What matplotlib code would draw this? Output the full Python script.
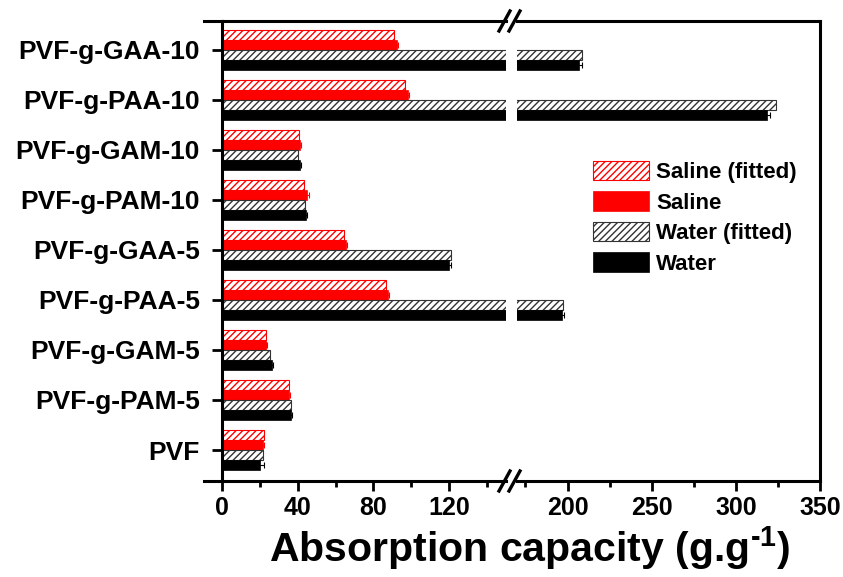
import matplotlib
matplotlib.use('Agg')
import matplotlib.pyplot as plt
import numpy as np

plt.rcParams['font.family'] = ['Liberation Sans', 'DejaVu Sans']
plt.rcParams['font.weight'] = 'bold'
plt.rcParams['mathtext.fontset'] = 'custom'
plt.rcParams['mathtext.bf'] = 'Liberation Sans:bold'
plt.rcParams['mathtext.rm'] = 'Liberation Sans:bold'
plt.rcParams['mathtext.default'] = 'bf'
plt.rcParams['hatch.linewidth'] = 1.0

samples = ['PVF', 'PVF-g-PAM-5', 'PVF-g-GAM-5', 'PVF-g-PAA-5', 'PVF-g-GAA-5',
           'PVF-g-PAM-10', 'PVF-g-GAM-10', 'PVF-g-PAA-10', 'PVF-g-GAA-10']
saline_fit = [22.4, 35.4, 23.5, 86.6, 64.7, 43.1, 40.8, 96.8, 90.9]
saline = [21.8, 35.4, 23.5, 87.6, 65.3, 44.9, 41.4, 98.3, 92.3]
water_fit = [21.4, 36.2, 25.5, 197.4, 121.0, 43.6, 40.3, 323.6, 208.8]
water = [20.3, 36.5, 26.5, 196.9, 119.9, 44.2, 41.2, 318.7, 207.1]
saline_err = [0.5, 0.5, 0.5, 0.8, 0.6, 1.0, 0.5, 0.6, 0.6]
water_err = [2.0, 0.6, 0.6, 1.2, 1.0, 0.6, 0.5, 1.5, 1.8]

left_ticks = [0, 40, 80, 120]
right_ticks = [200, 250, 300, 350]

fig = plt.figure(figsize=(8.43, 5.77), dpi=100)
W, H = 843.0, 577.0
top, bot = 21, 481
axL = fig.add_axes([222 / W, (H - bot) / H, (506 - 222) / W, (bot - top) / H])
axR = fig.add_axes([517 / W, (H - bot) / H, (820 - 517) / W, (bot - top) / H])

y = np.arange(len(samples))
h = 0.2
for ax in (axL, axR):
    ax.barh(y + 0.3, saline_fit, h, color='white', edgecolor='red', hatch='/////', linewidth=0.8)
    ax.barh(y + 0.1, saline, h, color='red', edgecolor='red', linewidth=0.5,
            xerr=saline_err, error_kw=dict(ecolor='red', elinewidth=0.8, capsize=2, capthick=0.8))
    ax.barh(y - 0.1, water_fit, h, color='white', edgecolor='#333333', hatch='/////', linewidth=0.8)
    ax.barh(y - 0.3, water, h, color='black', edgecolor='black', linewidth=0.5,
            xerr=water_err, error_kw=dict(ecolor='black', elinewidth=0.8, capsize=2, capthick=0.8))
    ax.set_ylim(-0.62, 8.58)
    for s in ax.spines.values():
        s.set_linewidth(2.2)
    ax.tick_params(axis='x', which='major', direction='out', length=7, width=2, labelsize=18, pad=4)
    ax.tick_params(axis='x', which='minor', direction='out', length=4, width=2)

axL.set_xlim(0, 150)
axL.set_xticks(left_ticks)
axL.set_xticks([20, 60, 100, 140], minor=True)
axL.spines['right'].set_visible(False)
axL.set_yticks(y)
axL.set_yticklabels(samples, fontsize=19, fontweight='bold')
axL.tick_params(axis='y', direction='out', length=7, width=2, pad=9)

axR.set_xlim(170, 350)
axR.set_xticks(right_ticks)
axR.set_xticks([175, 225, 275, 325], minor=True)
axR.spines['left'].set_visible(False)
axR.set_yticks([])

# legend
leg = axR.legend(['Saline (fitted)', 'Saline', 'Water (fitted)', 'Water'],
                 loc='upper left', bbox_to_anchor=(593 / W, 1 - 161 / H),
                 bbox_transform=fig.transFigure, frameon=False, fontsize=16,
                 handlelength=2.5, handleheight=0.95, handletextpad=0.35,
                 labelspacing=0.37, borderpad=0, borderaxespad=0)

# axis line stubs left of the y axis
for yy in (top, bot):
    fig.add_artist(plt.Line2D([204 / W, 222 / W], [1 - yy / H, 1 - yy / H],
                              color='black', lw=2.2, transform=fig.transFigure))

# break marks
for yy in (top, bot):
    for xx in (504, 514):
        fig.add_artist(plt.Line2D([(xx - 5) / W, (xx + 6) / W],
                                  [1 - (yy + 10) / H, 1 - (yy - 10) / H],
                                  color='black', lw=2.4, transform=fig.transFigure))

fig.text(530 / W, 1 - 548 / H, 'Absorption capacity (g.g$^{\u2010 1}$)',
         fontsize=29.5, fontweight='bold', ha='center', va='center')

fig.savefig('out.png', dpi=100)
